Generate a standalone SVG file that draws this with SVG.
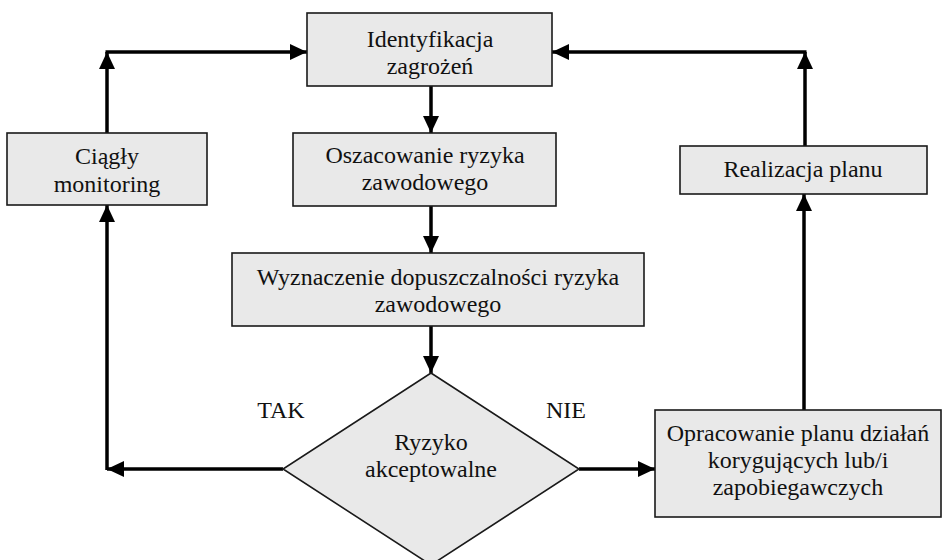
<svg xmlns="http://www.w3.org/2000/svg" width="944" height="560" viewBox="0 0 944 560">
<style>
.box{fill:#e9e9e9;stroke:#1a1a1a;stroke-width:1.6}
.t{font-family:'Liberation Serif','Times New Roman',Tinos,'DejaVu Serif',serif;font-size:24px;fill:#111;text-anchor:middle}
.c{fill:none;stroke:#000;stroke-width:3.5}
</style>
<defs>
<marker id="ah" markerUnits="userSpaceOnUse" markerWidth="18" markerHeight="16" refX="17" refY="8" orient="auto">
<path d="M0,0 L17,8 L0,16 Z" fill="#000"/>
</marker>
</defs>
<rect width="944" height="560" fill="#fff"/>
<g id="connectors">
<line class="c" x1="431" y1="86" x2="431" y2="133" marker-end="url(#ah)"/>
<line class="c" x1="431" y1="206" x2="431" y2="253" marker-end="url(#ah)"/>
<line class="c" x1="431" y1="326" x2="431" y2="373" marker-end="url(#ah)"/>
<line class="c" x1="283" y1="469" x2="107" y2="469" marker-end="url(#ah)"/>
<line class="c" x1="107" y1="470" x2="107" y2="205" marker-end="url(#ah)"/>
<line class="c" x1="107" y1="133" x2="107" y2="52" marker-end="url(#ah)"/>
<line class="c" x1="105.5" y1="52" x2="307" y2="52" marker-end="url(#ah)"/>
<line class="c" x1="579" y1="469" x2="655" y2="469" marker-end="url(#ah)"/>
<line class="c" x1="804" y1="410" x2="804" y2="194" marker-end="url(#ah)"/>
<line class="c" x1="805" y1="146" x2="805" y2="52" marker-end="url(#ah)"/>
<line class="c" x1="806.5" y1="52" x2="552" y2="52" marker-end="url(#ah)"/>
</g>
<g id="n-identyfikacja">
<rect class="box" x="307" y="13" width="245" height="73"/>
<text class="t" x="430" y="47">Identyfikacja</text>
<text class="t" x="430" y="74">zagrożeń</text>
</g>
<g id="n-oszacowanie">
<rect class="box" x="293" y="133" width="263" height="73"/>
<text class="t" x="425" y="163">Oszacowanie ryzyka</text>
<text class="t" x="425" y="190">zawodowego</text>
</g>
<g id="n-wyznaczenie">
<rect class="box" x="232" y="253" width="412" height="73"/>
<text class="t" x="438" y="285">Wyznaczenie dopuszczalności ryzyka</text>
<text class="t" x="438" y="312">zawodowego</text>
</g>
<g id="n-ryzyko">
<polygon class="box" points="431,373 579,469 431,565 283,469"/>
<text class="t" x="431" y="450">Ryzyko</text>
<text class="t" x="431" y="477">akceptowalne</text>
</g>
<g id="n-monitoring">
<rect class="box" x="7" y="133" width="200" height="72"/>
<text class="t" x="107" y="164">Ciągły</text>
<text class="t" x="107" y="192">monitoring</text>
</g>
<g id="n-realizacja">
<rect class="box" x="680" y="146" width="247" height="48"/>
<text class="t" x="803" y="177">Realizacja planu</text>
</g>
<g id="n-opracowanie">
<rect class="box" x="655" y="410" width="286" height="107"/>
<text class="t" x="798" y="441">Opracowanie planu działań</text>
<text class="t" x="798" y="468">korygujących lub/i</text>
<text class="t" x="798" y="495">zapobiegawczych</text>
</g>
<g id="labels">
<text class="t" x="281" y="418">TAK</text>
<text class="t" x="566" y="418">NIE</text>
</g>
</svg>
